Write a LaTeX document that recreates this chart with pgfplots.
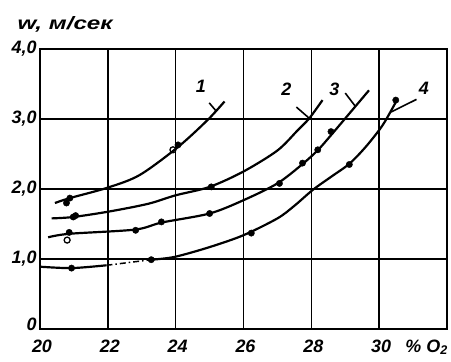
\documentclass[border=0pt]{standalone}
\usepackage{fontspec}
\setmainfont{Liberation Sans}
\usepackage{pgfplots}
\pgfplotsset{compat=1.18}

\newcommand\lblfont{\bfseries\itshape\fontsize{18}{18}\selectfont}

\begin{document}
\begin{tikzpicture}[font=\bfseries\itshape]
\useasboundingbox (-40bp,-33bp) rectangle (411bp,329bp);
\begin{axis}[
  at={(0,0)}, anchor=south west,
  scale only axis, width=407bp, height=280bp,
  xmin=20, xmax=32, ymin=0, ymax=4,
  xtick={20,22,24,26,28,30},
  ytick={0,1,2,3,4},
  yticklabels={{\raisebox{10pt}{0}\hspace{10pt}},{1,0},{2,0},{3,0},{4,0}},
  major tick length=0pt,
  grid=major,
  grid style={black, line width=1.4pt},
  axis line style={line width=1.9pt},
  tick label style={font=\lblfont},
  xticklabel style={yshift=-7pt, xshift=2pt},
  /pgf/number format/assume math mode=true,
  clip=false,
]
% curve 1
\addplot[line width=2.2pt, smooth, tension=0.5] coordinates {
  (20.44,1.80) (20.88,1.87) (22.0,2.02) (22.94,2.20) (24.07,2.60) (24.95,2.99) (25.44,3.25)};
% curve 2
\addplot[line width=2.2pt, smooth, tension=0.5] coordinates {
  (20.34,1.58) (20.98,1.60) (22.06,1.68) (23.2,1.79) (24.0,1.91) (25.0,2.03)
  (26.0,2.25) (27.0,2.55) (27.6,2.84) (27.94,3.01) (28.33,3.27)};
% curve 3
\addplot[line width=2.2pt, smooth, tension=0.5] coordinates {
  (20.24,1.31) (20.86,1.36) (22.8,1.42) (23.58,1.52) (25.0,1.65)
  (26.0,1.84) (27.0,2.08) (27.75,2.36) (28.2,2.56) (28.6,2.78) (29.7,3.41)};
% curve 4: solid, a dash-dot stretch near 1.0, then solid again
\addplot[line width=2.2pt, smooth, tension=0.5] coordinates {
  (20.0,0.89) (20.93,0.87) (21.96,0.91)};
\addplot[line width=1.5pt, dash pattern=on 6pt off 3pt on 1.5pt off 3pt] coordinates {
  (21.96,0.91) (23.28,0.99)};
\addplot[line width=2.2pt, smooth, tension=0.5] coordinates {
  (23.28,0.99) (23.97,1.03) (25.0,1.17) (26.0,1.34) (27.0,1.58) (27.5,1.76)
  (28.05,1.99) (28.6,2.18) (29.12,2.36) (29.6,2.60) (30.1,2.91) (30.5,3.25)};

% measured points
\addplot[only marks, mark=*, mark size=3.2pt] coordinates {
  (20.88,1.87) (20.78,1.80) (24.07,2.63)
  (20.98,1.60) (21.05,1.62) (25.05,2.03)
  (20.86,1.38) (22.82,1.41) (23.58,1.53) (25.0,1.65) (27.06,2.08)
  (27.74,2.37) (28.19,2.56) (28.58,2.82)
  (20.93,0.87) (23.28,0.99) (26.23,1.37) (29.12,2.35) (30.49,3.27)};
\addplot[only marks, mark=o, mark size=3pt, line width=1.3pt] coordinates {
  (23.92,2.56) (20.8,1.27)};

% curve labels with leaders
\draw[line width=1.6pt] (axis cs:24.99,3.23) -- (axis cs:25.2,3.11);
\draw[line width=1.6pt] (axis cs:27.56,3.17) -- (axis cs:27.94,3.01);
\draw[line width=1.6pt] (axis cs:29.0,3.37) -- (axis cs:29.3,3.18);
\draw[line width=1.6pt] (axis cs:30.35,3.10) -- (axis cs:31.1,3.28);
\node[font=\lblfont] at (axis cs:24.74,3.47) {1};
\node[font=\lblfont] at (axis cs:27.26,3.42) {2};
\node[font=\lblfont] at (axis cs:28.68,3.43) {3};
\node[font=\lblfont] at (axis cs:31.32,3.44) {4};

% axis titles
\node[anchor=north, font=\lblfont] at (axis cs:31.4,0) [yshift=-7pt] {\% O\textsubscript{2}};
\node[anchor=south west, font=\lblfont] at (axis cs:20,4) [xshift=-26bp, yshift=13bp] {\scalebox{1.35}[1]{w, м/сек}};
\end{axis}
\end{tikzpicture}
\end{document}
